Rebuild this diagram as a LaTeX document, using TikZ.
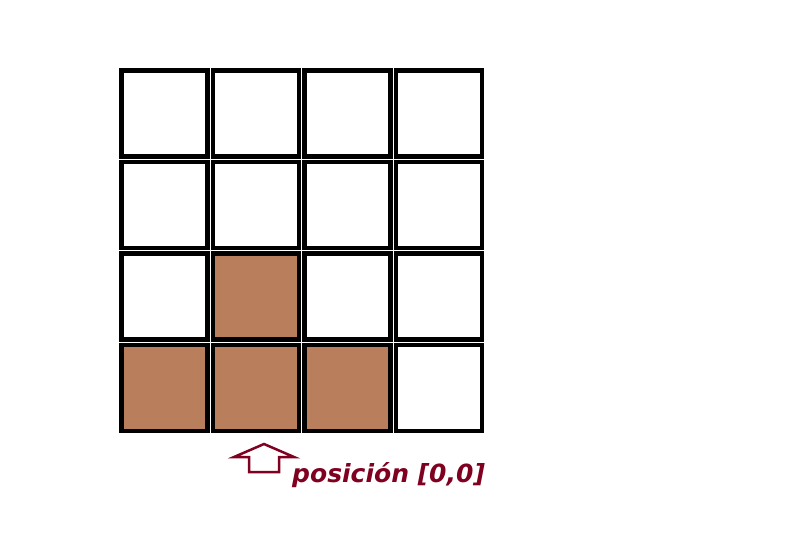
\documentclass[tikz,border=0pt]{standalone}
\usepackage{fontspec}
\newfontfamily\labelfont{DejaVu Sans}
\definecolor{terra}{RGB}{185,126,91}
\definecolor{wine}{RGB}{128,0,32}

\begin{document}
\begin{tikzpicture}[x=1pt, y=-1pt,
  cell/.style={draw=black, line width=4.5pt},
  full/.style={cell, fill=terra}]
\useasboundingbox (0,0) rectangle (800,550);
% board
\foreach \c in {0,...,3}
  \foreach \r in {0,...,3}
    \draw[cell] ({119+91.5*\c+2.25},{68+91.5*\r+2.25}) rectangle ++(86,86);
\foreach \c/\r in {1/2, 0/3, 1/3, 2/3}
  \draw[full] ({119+91.5*\c+2.25},{68+91.5*\r+2.25}) rectangle ++(86,86);
% label
\node[anchor=base west, inner sep=0, text=wine,
  font=\labelfont\bfseries\itshape\fontsize{25}{25}\selectfont] (pos) at (292,482.5) {posición [0,0]};
\draw[wine, line width=2.5pt, line join=miter] (249,472) -- (249,457) -- (234,457) -- (264,444)
  -- (294,457) -- (279,457) -- (279,472) -- cycle;
\end{tikzpicture}
\end{document}
